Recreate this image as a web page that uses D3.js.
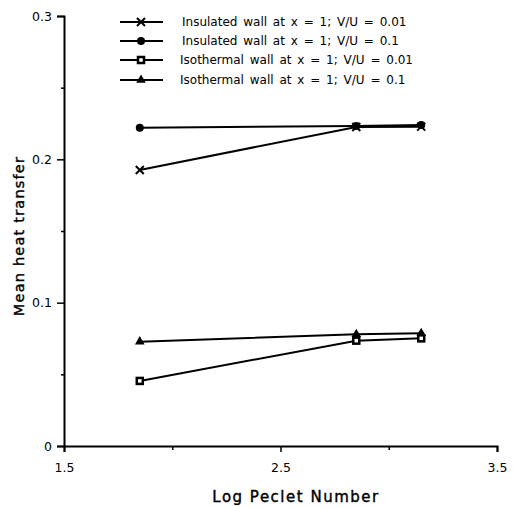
<!DOCTYPE html>
<head>
<meta charset="utf-8">
<script src="https://d3js.org/d3.v7.min.js"></script>
<style>
  body { margin: 0; background: #fff; }
  text { font-family: "DejaVu Sans", sans-serif; fill: #000; }
</style>
</head>
<body>
<svg id="chart" width="518" height="508"></svg>
<script>
  // Data
  const logPeclet = [1.85, 2.85, 3.15];
  const insulated001 = [0.1926, 0.2226, 0.2228];
  const insulated01 = [0.2221, 0.2232, 0.2240];
  const isothermal001 = [0.0454, 0.0735, 0.0751];
  const isothermal01 = [0.0728, 0.0779, 0.0786];
  const seriesNames = [
    "Insulated wall at x = 1; V/U = 0.01",
    "Insulated wall at x = 1; V/U = 0.1",
    "Isothermal wall at x = 1; V/U = 0.01",
    "Isothermal wall at x = 1; V/U = 0.1"
  ];
  const seriesMarkers = ["cross", "circle", "square", "triangle"];
  const xTicks = [1.5, 2.5, 3.5];
  const xTickLabels = ["1.5", "2.5", "3.5"];
  const yTicks = [0, 0.1, 0.2, 0.3];
  const yTickLabels = ["0", "0.1", "0.2", "0.3"];

  const series = [insulated001, insulated01, isothermal001, isothermal01];

  const svg = d3.select("#chart");
  const x = d3.scaleLinear().domain([1.5, 3.5]).range([64, 497]);
  const y = d3.scaleLinear().domain([0, 0.3]).range([446, 16]);

  // Axes
  const xAxis = d3.axisBottom(x)
    .tickValues(xTicks)
    .tickFormat((d, i) => xTickLabels[i])
    .tickSizeOuter(0)
    .tickSize(6)
    .tickPadding(11);
  const gx = svg.append("g").attr("transform", `translate(0,${y(0)})`).call(xAxis);
  gx.select(".domain").attr("stroke-width", 2);
  gx.selectAll(".tick line").attr("stroke-width", 1.5);
  gx.selectAll(".tick text").style("font-size", "12.5px").style("font-family", "DejaVu Sans");

  svg.append("g").attr("transform", `translate(0,${y(0)})`)
    .call(d3.axisBottom(x).tickValues([2.0, 3.0]).tickFormat("").tickSize(4).tickSizeOuter(0))
    .call(g => g.select(".domain").remove())
    .selectAll(".tick line").attr("stroke-width", 1.5);

  const yAxis = d3.axisLeft(y)
    .tickValues(yTicks)
    .tickFormat((d, i) => yTickLabels[i])
    .tickSizeOuter(0)
    .tickSize(7)
    .tickPadding(5);
  const gy = svg.append("g").attr("transform", `translate(${x(1.5)},0)`).call(yAxis);
  gy.select(".domain").attr("stroke-width", 2);
  gy.selectAll(".tick line").attr("stroke-width", 1.5);
  gy.selectAll(".tick text").style("font-size", "12.5px").style("font-family", "DejaVu Sans");

  svg.append("g").attr("transform", `translate(${x(1.5)},0)`)
    .call(d3.axisLeft(y).tickValues([0.05, 0.15, 0.25]).tickFormat("").tickSize(3).tickSizeOuter(0))
    .call(g => g.select(".domain").remove())
    .selectAll(".tick line").attr("stroke-width", 1.5);

  // Axis titles (normal weight thickened a little with a thin stroke)
  svg.append("text")
    .attr("x", 296).attr("y", 502)
    .attr("text-anchor", "middle")
    .style("font-size", "15px")
    .style("stroke", "#000").style("stroke-width", 0.4)
    .style("letter-spacing", "1.5px")
    .text("Log Peclet Number");
  svg.append("text")
    .attr("transform", "translate(24,236) rotate(-90)")
    .attr("text-anchor", "middle")
    .style("font-size", "14.5px")
    .style("stroke", "#000").style("stroke-width", 0.4)
    .style("letter-spacing", "1.2px")
    .text("Mean heat transfer");

  // Markers
  function drawMarker(g, type, cx, cy) {
    if (type === "circle") {
      g.append("circle").attr("cx", cx).attr("cy", cy).attr("r", 4).attr("fill", "#000");
    } else if (type === "square") {
      g.append("rect").attr("x", cx - 3).attr("y", cy - 3).attr("width", 6).attr("height", 6)
        .attr("fill", "#fff").attr("stroke", "#000").attr("stroke-width", 2.5);
    } else if (type === "triangle") {
      g.append("path").attr("d", d3.symbol(d3.symbolTriangle, 40)())
        .attr("transform", `translate(${cx},${cy})`).attr("fill", "#000");
    } else {
      g.append("path").attr("d", `M${cx - 4},${cy - 4}L${cx + 4},${cy + 4}M${cx - 4},${cy + 4}L${cx + 4},${cy - 4}`)
        .attr("stroke", "#000").attr("stroke-width", 2);
    }
  }

  const line = d3.line().x((d, i) => x(logPeclet[i])).y(d => y(d));
  const plot = svg.append("g");
  series.forEach((vals, si) => {
    plot.append("path").datum(vals).attr("d", line)
      .attr("fill", "none").attr("stroke", "#000").attr("stroke-width", 2);
    vals.forEach((v, i) => drawMarker(plot, seriesMarkers[si], x(logPeclet[i]), y(v)));
  });

  // Legend
  const legendRows = [22, 41, 60, 80];
  const legend = svg.append("g");
  seriesNames.forEach((name, i) => {
    const ly = legendRows[i];
    legend.append("line").attr("x1", 120).attr("x2", 163).attr("y1", ly).attr("y2", ly)
      .attr("stroke", "#000").attr("stroke-width", 2);
    drawMarker(legend, seriesMarkers[i], 141, ly);
    legend.append("text").attr("x", i < 2 ? 182 : 180).attr("y", ly + 4)
      .style("font-size", "12px")
      .style("word-spacing", "2px")
      .text(name);
  });
</script>
</body>
